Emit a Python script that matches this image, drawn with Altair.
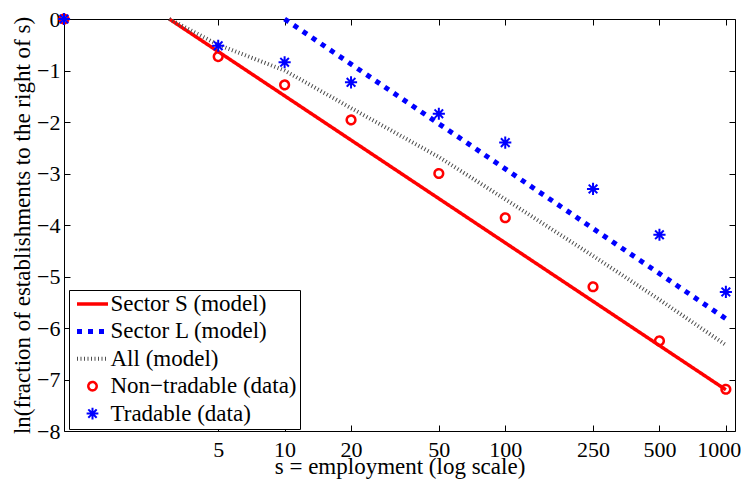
import altair as alt
import pandas as pd

# ---------------- data ----------------
series_names = ["Sector S (model)", "Sector L (model)", "All (model)",
                "Non\u2212tradable (data)", "Tradable (data)"]

s_model_x = [3, 1000]
s_model_y = [0, -7.2]
l_model_x = [10, 1000]
l_model_y = [0, -5.82]
all_model_x = [3, 5, 10, 20, 50, 100, 250, 500, 1000]
all_model_y = [0, -0.5, -1.0, -1.73, -2.68, -3.5, -4.6, -5.45, -6.33]
data_x = [1, 5, 10, 20, 50, 100, 250, 500, 1000]
nontradable_y = [0, -0.73, -1.28, -1.96, -3.0, -3.86, -5.2, -6.25, -7.19]
tradable_y = [0, -0.52, -0.84, -1.23, -1.84, -2.4, -3.3, -4.19, -5.3]

x_ticks = [5, 10, 20, 50, 100, 250, 500, 1000]
y_ticks = [-8, -7, -6, -5, -4, -3, -2, -1, 0]

# ---------------- style ----------------
FONT = "Liberation Serif"
series_colors = ["#ff0000", "#0000ff", "#4d4d4d", "#ff0000", "#0000ff"]
CIRCLE = "M0.27,0A0.27,0.27,0,1,1,-0.27,0A0.27,0.27,0,1,1,0.27,0Z"
STAR = "M0,-0.38L0,0.38M-0.38,0L0.38,0M-0.27,-0.27L0.27,0.27M-0.27,0.27L0.27,-0.27"
series_shapes = ["stroke", "stroke", "stroke", CIRCLE, STAR]
series_dash = [[1, 0], [5, 6], [1, 2.5], [1, 0], [1, 0]]
series_width = [3.5, 5, 4, 2.5, 2]

W, H = 671, 412

legend = alt.Legend(
    title=None, orient="none", legendX=5, legendY=271, padding=2.5,
    symbolOffset=3, labelOffset=0, rowPadding=3.4, clipHeight=23,
    symbolSize=961, symbolOpacity=1, symbolFillColor="transparent",
    labelFont=FONT, labelFontSize=23, labelColor="black", labelLimit=400,
    strokeColor="black", fillColor="white", cornerRadius=0,
)

color_enc = alt.Color("series:N",
                      scale=alt.Scale(domain=series_names, range=series_colors),
                      legend=legend)
dash_enc = alt.StrokeDash("series:N",
                          scale=alt.Scale(domain=series_names, range=series_dash),
                          legend=legend)
width_enc = alt.StrokeWidth("series:N",
                            scale=alt.Scale(type="ordinal", domain=series_names, range=series_width),
                            legend=legend)
shape_enc = alt.Shape("series:N",
                      scale=alt.Scale(domain=series_names, range=series_shapes),
                      legend=legend)

x_scale = alt.Scale(type="log", domain=[1, 1100], nice=False)
y_scale = alt.Scale(domain=[-8, 0], nice=False, zero=False)

bottom_axis = alt.Axis(orient="bottom", values=x_ticks, format="d", offset=-6, tickSize=6,
                       domain=False, grid=False, labelPadding=25, labelBaseline="alphabetic",
                       labelFlush=False, labelOverlap=False,
                       labelFont=FONT, labelFontSize=22, labelColor="black",
                       labelOffset={"condition": {"test": "datum.value == 1000", "value": -7},
                                    "value": 0},
                       title="s = employment (log scale)", titleBaseline="alphabetic",
                       titleFont=FONT, titleFontSize=23,
                       titleY=48, titleX=W / 2)
left_axis = alt.Axis(orient="left", values=y_ticks, format="d", offset=-6, tickSize=6,
                     domain=False, grid=False, labelPadding=4, labelOverlap=False,
                     labelFont=FONT, labelFontSize=22, labelColor="black",
                     title="ln(fraction of establishments to the right of s)",
                     titleFont=FONT, titleFontSize=23,
                     titleAngle=270, titleBaseline="alphabetic", titleAlign="center",
                     titleX=-41, titleY=H / 2)
top_axis = alt.Axis(orient="top", values=x_ticks, offset=-6, tickSize=6, domain=False,
                    grid=False, labels=False, title=None)
right_axis = alt.Axis(orient="right", values=y_ticks, offset=-6, tickSize=6, domain=False,
                      grid=False, labels=False, title=None)


def frame(xs, ys, name):
    return pd.DataFrame({"s": xs, "v": ys, "series": name})


def xy(xaxis, yaxis):
    return dict(x=alt.X("s:Q", scale=x_scale, axis=xaxis),
                y=alt.Y("v:Q", scale=y_scale, axis=yaxis))


s_layer = alt.Chart(frame(s_model_x, s_model_y, series_names[0])).mark_line(
    strokeCap="butt").encode(
    **xy(bottom_axis, left_axis), color=color_enc, strokeDash=dash_enc, strokeWidth=width_enc)

l_layer = alt.Chart(frame(l_model_x, l_model_y, series_names[1])).mark_line(
    strokeCap="butt").encode(
    **xy(top_axis, right_axis), color=color_enc, strokeDash=dash_enc, strokeWidth=width_enc)

all_layer = alt.Chart(frame(all_model_x, all_model_y, series_names[2])).mark_line(
    strokeCap="butt").encode(
    **xy(None, None), color=color_enc, strokeDash=dash_enc, strokeWidth=width_enc)

nt_layer = alt.Chart(frame(data_x, nontradable_y, series_names[3])).mark_point(
    size=1024, filled=False, opacity=1).encode(
    **xy(None, None), color=color_enc, strokeDash=dash_enc, strokeWidth=width_enc,
    shape=shape_enc)

t_layer = alt.Chart(frame(data_x, tradable_y, series_names[4])).mark_point(
    size=1024, filled=False, opacity=1).encode(
    **xy(None, None), color=color_enc, strokeDash=dash_enc, strokeWidth=width_enc,
    shape=shape_enc)

chart = alt.layer(s_layer, l_layer, all_layer, nt_layer, t_layer).resolve_axis(
    x="independent", y="independent"
).properties(
    width=W, height=H,
    autosize=alt.AutoSizeParams(type="none"),
    padding={"left": 56, "top": 11, "right": 6, "bottom": 50},
).configure_view(
    stroke="black", strokeWidth=1
).configure_axis(
    labelFont=FONT, labelFontSize=22, labelColor="black",
    titleFont=FONT, titleFontSize=23, titleFontWeight="normal", titleColor="black",
    tickColor="black", tickWidth=1,
)

chart.save("out.html", embed_options={"renderer": "svg", "actions": False})
